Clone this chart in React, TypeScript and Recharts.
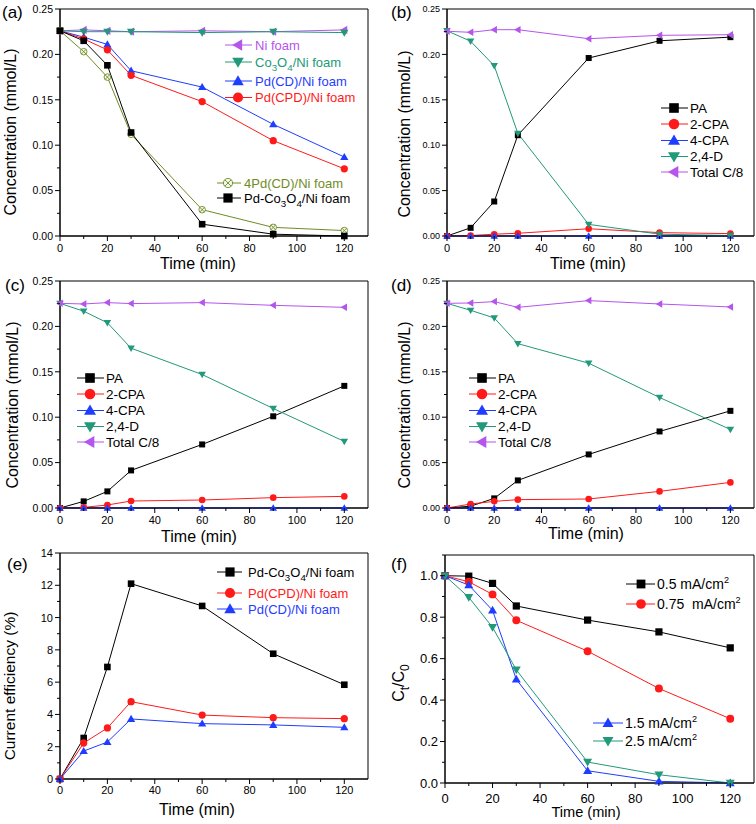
import React from 'react';
import { LineChart, Line, XAxis, YAxis, ReferenceArea } from 'recharts';

const FONT = 'Arial, "Liberation Sans", Helvetica, sans-serif';

const VIOLET = '#B455EE';
const GREEN = '#22997A';
const OLIVE = '#6F8C25';
const BLUE = '#1F3DFF';
const RED = '#FF1A1A';
const BLACK = '#000000';

// sampling times (min), shared by all panels
const time = [0, 10, 20, 30, 60, 90, 120];
const timeTicks = [0, 10, 20, 30, 40, 50, 60, 70, 80, 90, 100, 110, 120];
const concTicks = [0, 0.025, 0.05, 0.075, 0.1, 0.125, 0.15, 0.175, 0.2, 0.225, 0.25];
const effTicks = [0, 1, 2, 3, 4, 5, 6, 7, 8, 9, 10, 11, 12, 13, 14];
const ratioTicks = [0, 0.1, 0.2, 0.3, 0.4, 0.5, 0.6, 0.7, 0.8, 0.9, 1.0, 1.1];

// (a) 2,4-D concentration on different electrodes
const niFoam = [0.226, 0.227, 0.226, 0.225, 0.226, 0.225, 0.227];
const co3o4NiFoam = [0.226, 0.225, 0.225, 0.225, 0.224, 0.225, 0.224];
const pdCdNiFoam = [0.226, 0.219, 0.211, 0.182, 0.164, 0.123, 0.087];
const pdCpdNiFoam = [0.226, 0.217, 0.205, 0.177, 0.148, 0.105, 0.074];
const pd4CdNiFoam = [0.226, 0.203, 0.175, 0.112, 0.029, 0.0095, 0.006];
const pdCo3o4NiFoam = [0.226, 0.215, 0.188, 0.114, 0.013, 0.002, 0.0];

// (b) products, Pd-Co3O4/Ni foam
const paB = [0, 0.009, 0.038, 0.111, 0.196, 0.215, 0.219];
const cpa2B = [0, 0.0005, 0.002, 0.003, 0.008, 0.0037, 0.0026];
const cpa4B = [0, 0, 0, 0, 0, 0, 0];
const d24B = [0.226, 0.2145, 0.1875, 0.113, 0.0128, 0.002, 0.0005];
const totalB = [0.2255, 0.2243, 0.2272, 0.2272, 0.2173, 0.221, 0.2217];

// (c) products, Pd(CPD)/Ni foam
const paC = [0, 0.0073, 0.0183, 0.0414, 0.07, 0.101, 0.1345];
const cpa2C = [0, 0.0007, 0.0033, 0.0077, 0.0088, 0.0114, 0.0128];
const cpa4C = [0, 0, 0, 0, 0, 0, 0];
const d24C = [0.2254, 0.2167, 0.204, 0.176, 0.147, 0.1096, 0.0733];
const totalC = [0.2254, 0.2247, 0.2262, 0.2251, 0.2262, 0.2232, 0.221];

// (d) products, Pd(CD)/Ni foam
const paD = [0, 0.002, 0.0106, 0.0304, 0.059, 0.0843, 0.107];
const cpa2D = [0, 0.0044, 0.0073, 0.0092, 0.0099, 0.0183, 0.0282];
const cpa4D = [0, 0, 0, 0, 0, 0, 0];
const d24D = [0.2254, 0.2177, 0.2093, 0.181, 0.1595, 0.1217, 0.0865];
const totalD = [0.2254, 0.2258, 0.2273, 0.221, 0.2284, 0.2247, 0.2214];

// (e) current efficiency (%)
const effPdCo3o4 = [0, 2.54, 6.94, 12.1, 10.72, 7.76, 5.84];
const effPdCpd = [0, 2.23, 3.16, 4.79, 3.96, 3.8, 3.74];
const effPdCd = [0, 1.73, 2.29, 3.72, 3.43, 3.35, 3.2];

// (f) Ct/C0 at different current densities
const cd05 = [1.0, 0.998, 0.963, 0.854, 0.786, 0.729, 0.652];
const cd075 = [1.0, 0.971, 0.91, 0.785, 0.636, 0.456, 0.31];
const cd15 = [1.0, 0.955, 0.833, 0.5, 0.059, 0.008, 0.0];
const cd25 = [1.0, 0.896, 0.751, 0.546, 0.101, 0.04, 0.0];

type Seg = string | { sub?: string; sup?: string };
type Shape = 'square' | 'circle' | 'up' | 'down' | 'left' | 'xcircle';
type Series = { key: string; values: number[]; color: string; shape: Shape; label: Seg[] };

const rows = (series: Series[]) =>
  time.map((t, i) => {
    const r: any = { t };
    series.forEach((s) => (r[s.key] = s.values[i]));
    return r;
  });

const Marker = ({ cx, cy, shape, color, s }: { cx: number; cy: number; shape: Shape; color: string; s: number }) => {
  const k = s * 1.25;
  switch (shape) {
    case 'square':
      return <rect x={cx - s} y={cy - s} width={2 * s} height={2 * s} fill={color} />;
    case 'circle':
      return <circle cx={cx} cy={cy} r={s * 1.1} fill={color} />;
    case 'up':
      return <polygon points={`${cx},${cy - k} ${cx - k},${cy + s * 0.9} ${cx + k},${cy + s * 0.9}`} fill={color} />;
    case 'down':
      return <polygon points={`${cx},${cy + k} ${cx - k},${cy - s * 0.9} ${cx + k},${cy - s * 0.9}`} fill={color} />;
    case 'left':
      return <polygon points={`${cx - k},${cy} ${cx + s * 0.9},${cy - k} ${cx + s * 0.9},${cy + k}`} fill={color} />;
    case 'xcircle': {
      const d = s * 0.7;
      return (
        <g stroke={color} strokeWidth={0.9} fill="#f4f7ec">
          <circle cx={cx} cy={cy} r={s} />
          <line x1={cx - d} y1={cy - d} x2={cx + d} y2={cy + d} />
          <line x1={cx - d} y1={cy + d} x2={cx + d} y2={cy - d} />
        </g>
      );
    }
  }
  return null;
};

const Rich = ({ segs, fs }: { segs: Seg[]; fs: number }) => {
  let cur = 0;
  return (
    <>
      {segs.map((s, i) => {
        let tgt = 0;
        let text = '';
        let size = fs;
        if (typeof s === 'string') {
          text = s;
        } else if (s.sub) {
          tgt = fs * 0.3;
          text = s.sub;
          size = fs * 0.75;
        } else if (s.sup) {
          tgt = -fs * 0.4;
          text = s.sup ?? '';
          size = fs * 0.65;
        }
        const dy = tgt - cur;
        cur = tgt;
        return (
          <tspan key={i} dy={dy} fontSize={size}>
            {text}
          </tspan>
        );
      })}
    </>
  );
};

const XTick = (p: any) => {
  const { x, y, payload, fs, gap } = p;
  const v = payload.value;
  const major = Math.round(v) % 20 === 0;
  return (
    <g>
      <line x1={x} x2={x} y1={y} y2={y + (major ? 5 : 3)} stroke="#000" strokeWidth={1} />
      {major && (
        <text x={x} y={y + gap} textAnchor="middle" fontSize={fs} fontFamily={FONT} fontWeight={400} fill="#000">
          {v}
        </text>
      )}
    </g>
  );
};

const YTick = (p: any) => {
  const { x, y, payload, fs, major, fmt } = p;
  const v = payload.value;
  const isMajor = major(v);
  return (
    <g>
      <line x1={x} x2={x - (isMajor ? 5 : 3)} y1={y} y2={y} stroke="#000" strokeWidth={1} />
      {isMajor && (
        <text x={x - 7} y={y + fs * 0.36} textAnchor="end" fontSize={fs} fontFamily={FONT} fontWeight={400} fill="#000">
          {fmt(v)}
        </text>
      )}
    </g>
  );
};

type LegendCfg = {
  x: number;
  ys: number[];
  iconW: number;
  markerX: number;
  textX: number;
  fs: number;
  ms: number;
  colored: boolean;
  items: Series[];
};

type PanelCfg = {
  left: number;
  top: number;
  w: number;
  h: number;
  plotTop: number;
  plotRight: number;
  yAxisW: number;
  xAxisH: number;
  series: Series[];
  yDomain: [number, number];
  yTicks: number[];
  yMajor: (v: number) => boolean;
  yFmt: (v: number) => string;
  yFs: number;
  xFs: number;
  xGap: number;
  ms: number;
  yTitle: { x: number; y: number; fs: number; segs: Seg[] };
  xTitle: { x: number; y: number; fs: number };
  letter: { x: number; y: number; text: string };
  legends: LegendCfg[];
};

const Panel = (c: PanelCfg) => {
  const data = rows(c.series);
  return (
    <div style={{ position: 'absolute', left: c.left, top: c.top, width: c.w, height: c.h }}>
      <LineChart
        width={c.w}
        height={c.h}
        data={data}
        margin={{ top: c.plotTop, right: c.plotRight, bottom: 0, left: 0 }}
      >
        <XAxis
          dataKey="t"
          type="number"
          domain={[0, 130]}
          ticks={timeTicks}
          interval={0}
          height={c.xAxisH}
          axisLine={{ stroke: '#000', strokeWidth: 1 }}
          tickLine={false}
          tickSize={0}
          tickMargin={0}
          tick={(p: any) => <XTick {...p} fs={c.xFs} gap={c.xGap} />}
        />
        <YAxis
          type="number"
          domain={c.yDomain}
          ticks={c.yTicks}
          interval={0}
          width={c.yAxisW}
          axisLine={{ stroke: '#000', strokeWidth: 1 }}
          tickLine={false}
          tickSize={0}
          tickMargin={0}
          tick={(p: any) => <YTick {...p} fs={c.yFs} major={c.yMajor} fmt={c.yFmt} />}
        />
        <ReferenceArea
          x1={0}
          x2={130}
          y1={c.yDomain[0]}
          y2={c.yDomain[1]}
          fill="none"
          fillOpacity={0}
          stroke="#000"
          strokeWidth={1}
          strokeOpacity={1}
        />
        {c.series.map((s) => (
          <Line
            key={s.key}
            dataKey={s.key}
            type="linear"
            stroke={s.color}
            strokeWidth={1}
            isAnimationActive={false}
            activeDot={false}
            dot={(p: any) => (
              <Marker key={`${s.key}-${p.index}`} cx={p.cx} cy={p.cy} shape={s.shape} color={s.color} s={c.ms} />
            )}
          />
        ))}
      </LineChart>
      <svg
        width={c.w}
        height={c.h}
        style={{ position: 'absolute', left: 0, top: 0, overflow: 'visible', pointerEvents: 'none' }}
        fontFamily={FONT}
        fontWeight={400}
      >
        <text x={c.letter.x} y={c.letter.y} fontSize={17} fill="#000">
          {c.letter.text}
        </text>
        <text
          x={c.yTitle.x}
          y={c.yTitle.y}
          textAnchor="middle"
          fontSize={c.yTitle.fs}
          fill="#000"
          transform={`rotate(-90 ${c.yTitle.x} ${c.yTitle.y})`}
        >
          <Rich segs={c.yTitle.segs} fs={c.yTitle.fs} />
        </text>
        <text x={c.xTitle.x} y={c.xTitle.y} textAnchor="middle" fontSize={c.xTitle.fs} fill="#000">
          Time (min)
        </text>
        {c.legends.map((lg, li) => (
          <g key={li}>
            {lg.items.map((s, i) => {
              const y = lg.ys[i];
              return (
                <g key={s.key}>
                  <line x1={lg.x} x2={lg.x + lg.iconW} y1={y} y2={y} stroke={s.color} strokeWidth={1} />
                  <Marker cx={lg.x + lg.markerX} cy={y} shape={s.shape} color={s.color} s={lg.ms} />
                  <text
                    x={lg.x + lg.textX}
                    y={y + lg.fs * 0.36}
                    fontSize={lg.fs}
                    fill={lg.colored ? s.color : '#000'}
                    style={{ whiteSpace: 'pre' }}
                  >
                    <Rich segs={s.label} fs={lg.fs} />
                  </text>
                </g>
              );
            })}
          </g>
        ))}
      </svg>
    </div>
  );
};

const concMajor = (v: number) => Math.round(v * 1000) % 50 === 0;
const concFmt = (v: number) => v.toFixed(2);

const sA: Series[] = [
  { key: 'ni', values: niFoam, color: VIOLET, shape: 'left', label: ['Ni foam'] },
  { key: 'co', values: co3o4NiFoam, color: GREEN, shape: 'down', label: ['Co', { sub: '3' }, 'O', { sub: '4' }, '/Ni foam'] },
  { key: 'pdcd', values: pdCdNiFoam, color: BLUE, shape: 'up', label: ['Pd(CD)/Ni foam'] },
  { key: 'pdcpd', values: pdCpdNiFoam, color: RED, shape: 'circle', label: ['Pd(CPD)/Ni foam'] },
  { key: 'pd4', values: pd4CdNiFoam, color: OLIVE, shape: 'xcircle', label: ['4Pd(CD)/Ni foam'] },
  { key: 'pdco', values: pdCo3o4NiFoam, color: BLACK, shape: 'square', label: ['Pd-Co', { sub: '3' }, 'O', { sub: '4' }, '/Ni foam'] },
];

const productSeries = (pa: number[], c2: number[], c4: number[], d: number[], tot: number[]): Series[] => [
  { key: 'pa', values: pa, color: BLACK, shape: 'square', label: ['PA'] },
  { key: 'cpa2', values: c2, color: RED, shape: 'circle', label: ['2-CPA'] },
  { key: 'cpa4', values: c4, color: BLUE, shape: 'up', label: ['4-CPA'] },
  { key: 'd24', values: d, color: GREEN, shape: 'down', label: ['2,4-D'] },
  { key: 'tot', values: tot, color: VIOLET, shape: 'left', label: ['Total C/8'] },
];

const sB = productSeries(paB, cpa2B, cpa4B, d24B, totalB);
const sC = productSeries(paC, cpa2C, cpa4C, d24C, totalC);
const sD = productSeries(paD, cpa2D, cpa4D, d24D, totalD);

const sE: Series[] = [
  { key: 'pdco', values: effPdCo3o4, color: BLACK, shape: 'square', label: ['Pd-Co', { sub: '3' }, 'O', { sub: '4' }, '/Ni foam'] },
  { key: 'pdcpd', values: effPdCpd, color: RED, shape: 'circle', label: ['Pd(CPD)/Ni foam'] },
  { key: 'pdcd', values: effPdCd, color: BLUE, shape: 'up', label: ['Pd(CD)/Ni foam'] },
];

const sF: Series[] = [
  { key: 'c05', values: cd05, color: BLACK, shape: 'square', label: ['0.5 mA/cm', { sup: '2' }] },
  { key: 'c075', values: cd075, color: RED, shape: 'circle', label: ['0.75  mA/cm', { sup: '2' }] },
  { key: 'c15', values: cd15, color: BLUE, shape: 'up', label: ['1.5 mA/cm', { sup: '2' }] },
  { key: 'c25', values: cd25, color: GREEN, shape: 'down', label: ['2.5 mA/cm', { sup: '2' }] },
];

const concTitle: Seg[] = ['Concentration (mmol/L)'];

const productLegend = (x: number, items: Series[]): LegendCfg => ({
  x,
  ys: [108, 124, 140.5, 156.5, 172],
  iconW: 27,
  markerX: 13,
  textX: 29,
  fs: 13.5,
  ms: 4.8,
  colored: false,
  items,
});

const panels: PanelCfg[] = [
  {
    left: 0, top: 0, w: 378, h: 270, plotTop: 9, plotRight: 10, yAxisW: 60, xAxisH: 34,
    series: sA, yDomain: [0, 0.25], yTicks: concTicks, yMajor: concMajor, yFmt: concFmt, yFs: 10.5,
    xFs: 11, xGap: 16, ms: 3.3,
    yTitle: { x: 16, y: 132, fs: 16, segs: concTitle },
    xTitle: { x: 198, y: 268.5, fs: 16 },
    letter: { x: 2, y: 18, text: '(a)' },
    legends: [
      { x: 225, ys: [45, 62, 81, 97.5], iconW: 27, markerX: 13, textX: 30, fs: 13, ms: 4.6, colored: true, items: sA.slice(0, 4) },
      { x: 217, ys: [183, 198], iconW: 24, markerX: 11, textX: 27, fs: 13, ms: 4.6, colored: true, items: sA.slice(4) },
    ],
  },
  {
    left: 378, top: 0, w: 378, h: 270, plotTop: 9, plotRight: 2, yAxisW: 69, xAxisH: 34,
    series: sB, yDomain: [0, 0.25], yTicks: concTicks, yMajor: concMajor, yFmt: concFmt, yFs: 9,
    xFs: 11, xGap: 16, ms: 3,
    yTitle: { x: 32, y: 134, fs: 16, segs: concTitle },
    xTitle: { x: 210, y: 268.5, fs: 16 },
    letter: { x: 13, y: 18, text: '(b)' },
    legends: [productLegend(283, sB)],
  },
  {
    left: 0, top: 270, w: 378, h: 270, plotTop: 11, plotRight: 10, yAxisW: 60, xAxisH: 32,
    series: sC, yDomain: [0, 0.25], yTicks: concTicks, yMajor: concMajor, yFmt: concFmt, yFs: 10.5,
    xFs: 11, xGap: 16, ms: 3,
    yTitle: { x: 18, y: 135, fs: 16, segs: concTitle },
    xTitle: { x: 199, y: 271.5, fs: 16 },
    letter: { x: 5, y: 21, text: '(c)' },
    legends: [productLegend(77, sC)],
  },
  {
    left: 378, top: 270, w: 378, h: 270, plotTop: 11, plotRight: 2, yAxisW: 69, xAxisH: 32,
    series: sD, yDomain: [0, 0.25], yTicks: concTicks, yMajor: concMajor, yFmt: concFmt, yFs: 9,
    xFs: 11, xGap: 16, ms: 3,
    yTitle: { x: 32, y: 135, fs: 16, segs: concTitle },
    xTitle: { x: 208, y: 268.5, fs: 16 },
    letter: { x: 13, y: 21, text: '(d)' },
    legends: [productLegend(91, sD)],
  },
  {
    left: 0, top: 540, w: 378, h: 284, plotTop: 13, plotRight: 10, yAxisW: 60, xAxisH: 45,
    series: sE, yDomain: [0, 14], yTicks: effTicks, yMajor: (v) => v % 2 === 0, yFmt: (v) => String(v), yFs: 11,
    xFs: 11, xGap: 15, ms: 3.3,
    yTitle: { x: 15, y: 146, fs: 15.5, segs: ['Current efficiency (%)'] },
    xTitle: { x: 197, y: 274.5, fs: 16 },
    letter: { x: 7, y: 30, text: '(e)' },
    legends: [
      { x: 217, ys: [32, 53, 69], iconW: 25, markerX: 13, textX: 31, fs: 13, ms: 4.6, colored: true, items: sE },
    ],
  },
  {
    left: 378, top: 540, w: 378, h: 284, plotTop: 15, plotRight: 2, yAxisW: 67, xAxisH: 41,
    series: sF, yDomain: [0, 1.1], yTicks: ratioTicks,
    yMajor: (v) => Math.round(v * 10) % 2 === 0 && v < 1.05, yFmt: (v) => v.toFixed(1), yFs: 13,
    xFs: 13, xGap: 19.5, ms: 3.6,
    yTitle: { x: 26, y: 143, fs: 16, segs: ['C', { sub: 't' }, '/C', { sub: '0' }] },
    xTitle: { x: 208, y: 277, fs: 14.6 },
    letter: { x: 13, y: 30, text: '(f)' },
    legends: [
      { x: 248, ys: [44, 64], iconW: 29, markerX: 15, textX: 31, fs: 14, ms: 4.4, colored: false, items: sF.slice(0, 2) },
      { x: 215, ys: [183, 201], iconW: 30, markerX: 15, textX: 32, fs: 14, ms: 4.4, colored: false, items: sF.slice(2) },
    ],
  },
];

export default function App() {
  return (
    <div style={{ position: 'absolute', left: 0, top: 0, width: 756, height: 824, background: '#fff' }}>
      {panels.map((p) => (
        <Panel key={p.letter.text} {...p} />
      ))}
    </div>
  );
}
